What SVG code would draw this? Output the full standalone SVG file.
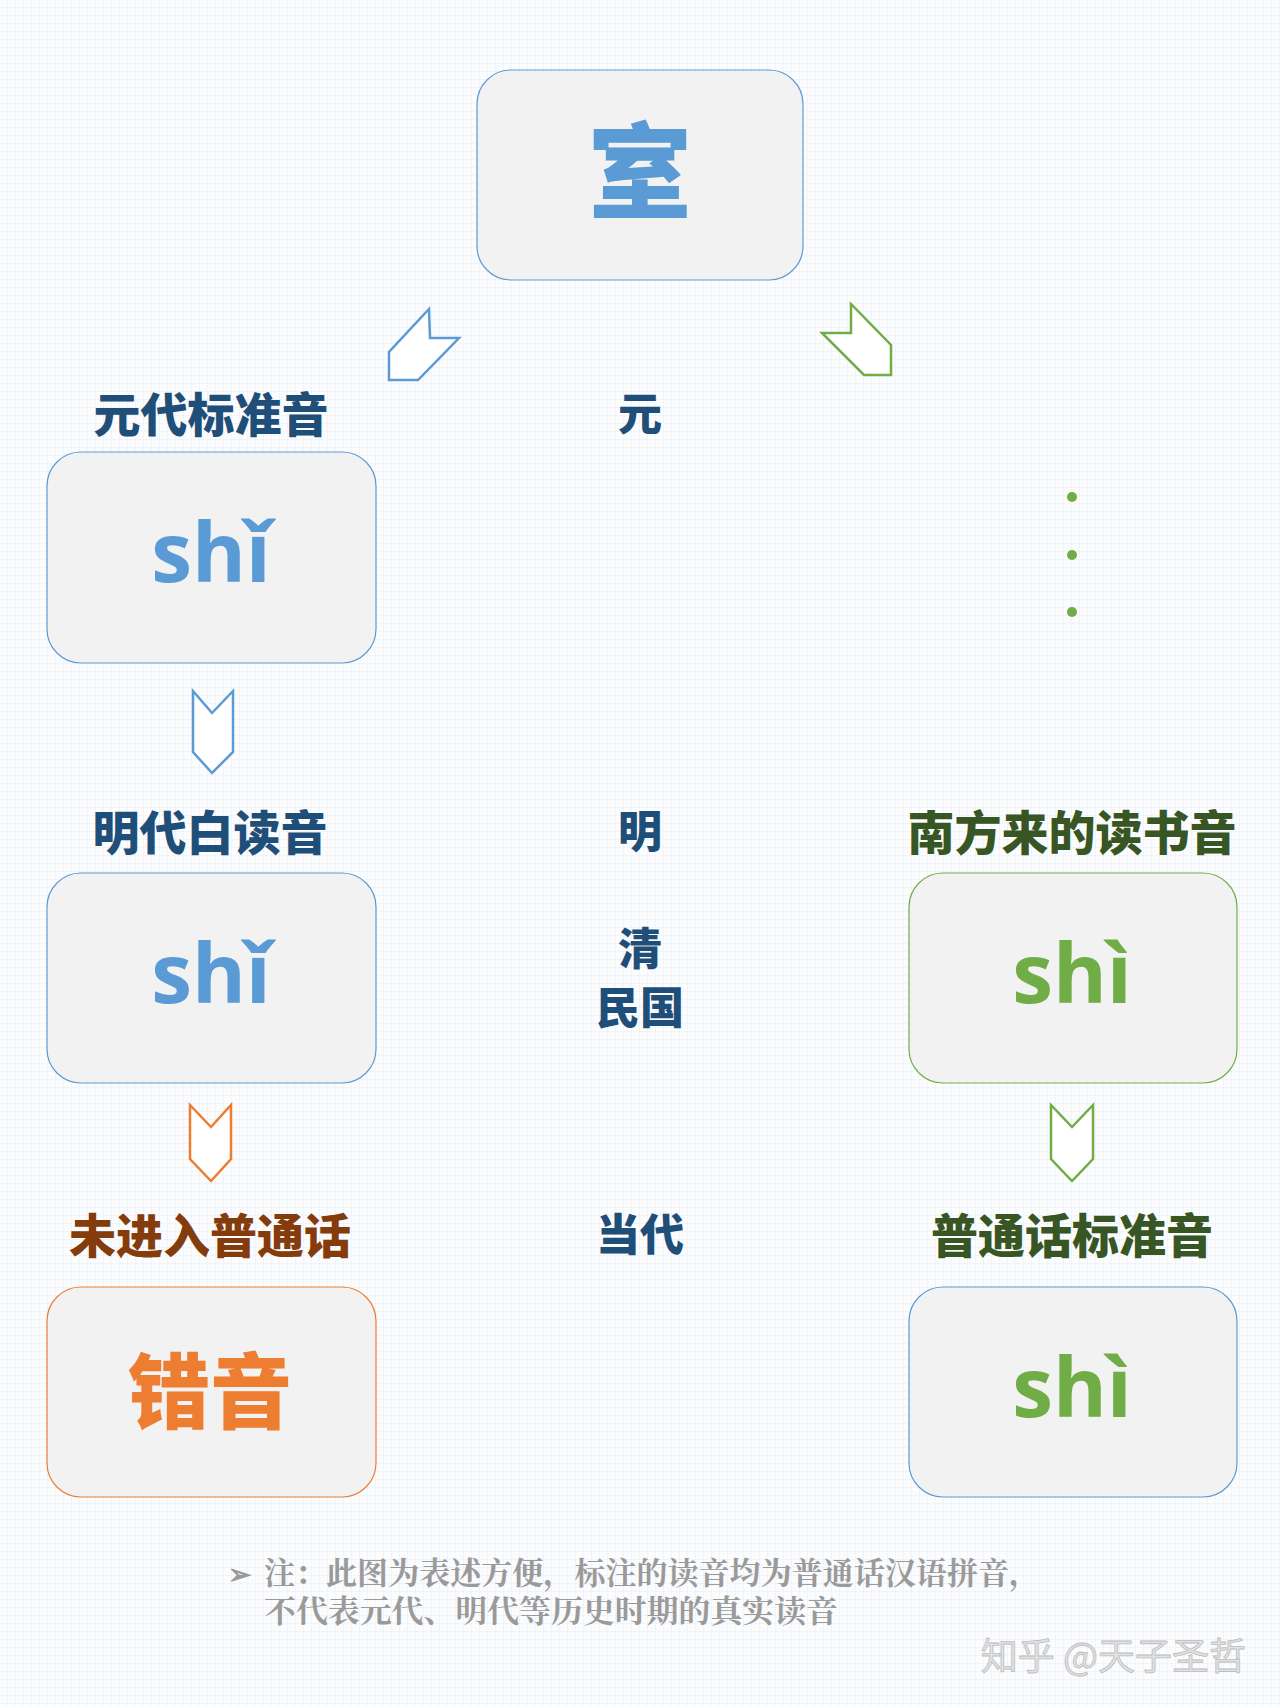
<svg xmlns="http://www.w3.org/2000/svg" width="1280" height="1707" viewBox="0 0 1280 1707">
<defs>
<pattern id="grid" width="8" height="8" patternUnits="userSpaceOnUse">
<path d="M8 0V8M0 8H8" fill="none" stroke="#e8edf2" stroke-width="1"/>
</pattern>
<style>
.box{fill:#f2f2f2;stroke-width:1.2}
.b{stroke:#5b9bd5}.g{stroke:#70ad47}.o{stroke:#ed7d31}
.lab{font-family:"Noto Sans CJK SC",sans-serif;font-weight:900;font-size:47px;text-anchor:middle;dominant-baseline:central}
.shi{font-family:"Open Sans","Noto Sans",sans-serif;font-weight:700;font-size:82px;text-anchor:middle;dominant-baseline:central}
.arr{fill:#fff;stroke-width:2.5}
</style>
</defs>
<rect width="1280" height="1707" fill="#fbfcfd"/>
<rect width="1280" height="1707" fill="url(#grid)"/>
<g id="connectors">
<polygon class="arr b" points="389,380 389,352 429,309 430,338 459,338 418,380"/>
<polygon class="arr g" points="851,304 851,333 822,333 864,375 891,375 891,345"/>
<polygon class="arr b" points="193,691 212,713 233,691 233,752 212,773 193,752"/>
<polygon class="arr o" points="190,1105 211,1127 231,1105 231,1159 211,1181 190,1159"/>
<polygon class="arr g" points="1051,1105 1072,1127 1093,1105 1093,1159 1072,1181 1051,1159"/>
<g fill="#70ad47"><circle cx="1072" cy="497" r="5"/><circle cx="1072" cy="555" r="5"/><circle cx="1072" cy="612" r="5"/></g>
</g>
<g id="top"><rect class="box b" x="477" y="70" width="326" height="210" rx="34"/>
<text x="640" y="165" class="lab" style="font-size:104px" fill="#5b9bd5">室</text></g>
<g id="yuan"><text x="211" y="411" class="lab" fill="#1f4e79">元代标准音</text>
<rect class="box b" x="47" y="452" width="329" height="211" rx="34"/>
<text x="211" y="550" class="shi" fill="#5b9bd5">shǐ</text></g>
<g id="ming"><text x="210" y="829" class="lab" fill="#1f4e79">明代白读音</text>
<rect class="box b" x="47" y="873" width="329" height="210" rx="34"/>
<text x="211" y="971" class="shi" fill="#5b9bd5">shǐ</text></g>
<g id="cuo"><text x="210" y="1232" class="lab" fill="#843c0c">未进入普通话</text>
<rect class="box o" x="47" y="1287" width="329" height="210" rx="34"/>
<text x="210" y="1386" class="lab" style="font-size:82px" fill="#ed7d31">错音</text></g>
<g id="nanfang"><text x="1072" y="829" class="lab" fill="#375623">南方来的读书音</text>
<rect class="box g" x="909" y="873" width="328" height="210" rx="34"/>
<text x="1072" y="971" class="shi" fill="#70ad47">shì</text></g>
<g id="putong"><text x="1072" y="1232" class="lab" fill="#375623">普通话标准音</text>
<rect class="box b" x="909" y="1287" width="328" height="210" rx="34"/>
<text x="1072" y="1385" class="shi" fill="#70ad47">shì</text></g>
<g id="eras" class="lab" fill="#1f4e79" style="font-size:44px">
<text x="640" y="411">元</text>
<text x="640" y="829">明</text>
<text x="640" y="946">清</text>
<text x="640" y="1005">民国</text>
<text x="640" y="1232">当代</text>
</g>
<g id="note" font-family="'Liberation Serif','Noto Serif CJK SC','Noto Sans CJK SC',serif" font-weight="700" font-size="31" fill="#9a9a9a">
<text x="228" y="1584" font-size="28">➢</text>
<text x="264" y="1584" textLength="776" lengthAdjust="spacingAndGlyphs">注：此图为表述方便，标注的读音均为普通话汉语拼音，</text>
<text x="264" y="1622" textLength="574" lengthAdjust="spacingAndGlyphs">不代表元代、明代等历史时期的真实读音</text>
</g>
<text x="1246" y="1670" text-anchor="end" font-family="'Noto Sans CJK SC',sans-serif" font-size="37" fill="#e2e2e2" stroke="#bdbdbd" stroke-width="0.8">知乎 @天子圣哲</text>
</svg>
